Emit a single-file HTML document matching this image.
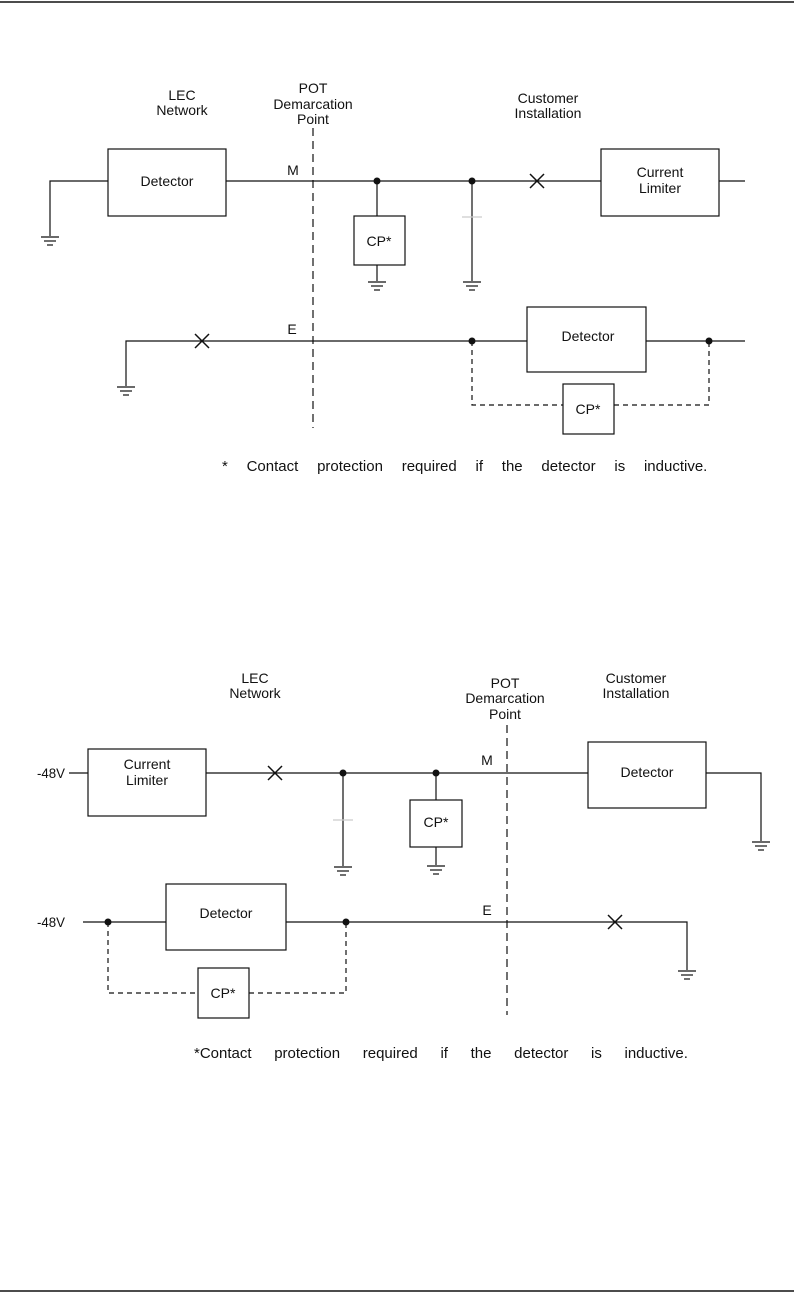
<!DOCTYPE html>
<html><head><meta charset="utf-8"><style>
html,body{margin:0;padding:0;background:#fff;}
svg{display:block;}
text{font-family:"Liberation Sans",sans-serif;font-size:14px;fill:#111;}
</style></head><body>
<svg width="794" height="1298" viewBox="0 0 794 1298" xmlns="http://www.w3.org/2000/svg">
<defs>
<g id="gnd" stroke="#111" stroke-width="1.2" fill="none">
<line x1="-9" y1="0" x2="9" y2="0"/><line x1="-6" y1="4" x2="6" y2="4"/><line x1="-3" y1="8" x2="3" y2="8"/>
</g>
<g id="xm" stroke="#111" stroke-width="1.5"><line x1="-7" y1="-7" x2="7" y2="7"/><line x1="-7" y1="7" x2="7" y2="-7"/></g>
</defs>
<line x1="0" y1="2" x2="794" y2="2" stroke="#111" stroke-width="1.5"/>
<line x1="0" y1="1291" x2="794" y2="1291" stroke="#111" stroke-width="1.5"/>

<g stroke="#111" stroke-width="1.2" fill="none">
<line x1="313" y1="128" x2="313" y2="428" stroke-dasharray="8,5"/>
<polyline points="50,236 50,181 108,181"/>
<rect x="108" y="149" width="118" height="67"/>
<line x1="226" y1="181" x2="601" y2="181"/>
<rect x="601" y="149" width="118" height="67"/>
<line x1="719" y1="181" x2="745" y2="181"/>
<line x1="377" y1="181" x2="377" y2="216"/>
<rect x="354" y="216" width="51" height="49"/>
<line x1="377" y1="265" x2="377" y2="281"/>
<line x1="472" y1="181" x2="472" y2="281"/>
<line x1="462" y1="217" x2="482" y2="217" stroke="#ccc"/>
<polyline points="126,386 126,341 527,341"/>
<rect x="527" y="307" width="119" height="65"/>
<line x1="646" y1="341" x2="745" y2="341"/>
<polyline points="472,341 472,405 563,405" stroke-dasharray="5,4"/>
<polyline points="614,405 709,405 709,341" stroke-dasharray="5,4"/>
<rect x="563" y="384" width="51" height="50"/>

<line x1="507" y1="725" x2="507" y2="1015" stroke-dasharray="8,5"/>
<line x1="69" y1="773" x2="88" y2="773"/>
<rect x="88" y="749" width="118" height="67"/>
<line x1="206" y1="773" x2="588" y2="773"/>
<rect x="588" y="742" width="118" height="66"/>
<polyline points="706,773 761,773 761,841"/>
<line x1="343" y1="773" x2="343" y2="866"/>
<line x1="333" y1="820" x2="353" y2="820" stroke="#ccc"/>
<line x1="436" y1="773" x2="436" y2="800"/>
<rect x="410" y="800" width="52" height="47"/>
<line x1="436" y1="847" x2="436" y2="865"/>
<line x1="83" y1="922" x2="166" y2="922"/>
<rect x="166" y="884" width="120" height="66"/>
<polyline points="286,922 687,922 687,970"/>
<polyline points="108,922 108,993 198,993" stroke-dasharray="5,4"/>
<polyline points="249,993 346,993 346,922" stroke-dasharray="5,4"/>
<rect x="198" y="968" width="51" height="50"/>
</g>

<use href="#gnd" x="50" y="237"/>
<use href="#gnd" x="377" y="282"/>
<use href="#gnd" x="472" y="282"/>
<use href="#gnd" x="126" y="387"/>
<use href="#gnd" x="761" y="842"/>
<use href="#gnd" x="343" y="867"/>
<use href="#gnd" x="436" y="866"/>
<use href="#gnd" x="687" y="971"/>
<use href="#xm" x="537" y="181"/>
<use href="#xm" x="202" y="341"/>
<use href="#xm" x="275" y="773"/>
<use href="#xm" x="615" y="922"/>
<g fill="#111">
<circle cx="377" cy="181" r="3.5"/><circle cx="472" cy="181" r="3.5"/>
<circle cx="472" cy="341" r="3.5"/><circle cx="709" cy="341" r="3.5"/>
<circle cx="343" cy="773" r="3.5"/><circle cx="436" cy="773" r="3.5"/>
<circle cx="108" cy="922" r="3.5"/><circle cx="346" cy="922" r="3.5"/>
</g>

<g text-anchor="middle">
<text x="182" y="100">LEC</text><text x="182" y="115">Network</text>
<text x="313" y="93">POT</text><text x="313" y="109">Demarcation</text><text x="313" y="124">Point</text>
<text x="548" y="103">Customer</text><text x="548" y="118">Installation</text>
<text x="167" y="186">Detector</text>
<text x="660" y="177">Current</text><text x="660" y="193">Limiter</text>
<text x="293" y="175">M</text>
<text x="379" y="246">CP*</text>
<text x="292" y="334">E</text>
<text x="588" y="341">Detector</text>
<text x="588" y="414">CP*</text>

<text x="255" y="683">LEC</text><text x="255" y="698">Network</text>
<text x="505" y="688">POT</text><text x="505" y="703">Demarcation</text><text x="505" y="719">Point</text>
<text x="636" y="683">Customer</text><text x="636" y="698">Installation</text>
<text x="147" y="769">Current</text><text x="147" y="785">Limiter</text>
<text x="487" y="765">M</text>
<text x="647" y="777">Detector</text>
<text x="436" y="827">CP*</text>
<text x="226" y="918">Detector</text>
<text x="487" y="915">E</text>
<text x="223" y="998">CP*</text>
</g>
<text x="37" y="778" textLength="28" lengthAdjust="spacingAndGlyphs">-48V</text>
<text x="37" y="927" textLength="28" lengthAdjust="spacingAndGlyphs">-48V</text>
<text x="222" y="471" style="font-size:15px;word-spacing:14.6px">* Contact protection required if the detector is inductive.</text>
<text x="194" y="1058" style="font-size:15px;word-spacing:18.5px">*Contact protection required if the detector is inductive.</text>
</svg>
</body></html>
